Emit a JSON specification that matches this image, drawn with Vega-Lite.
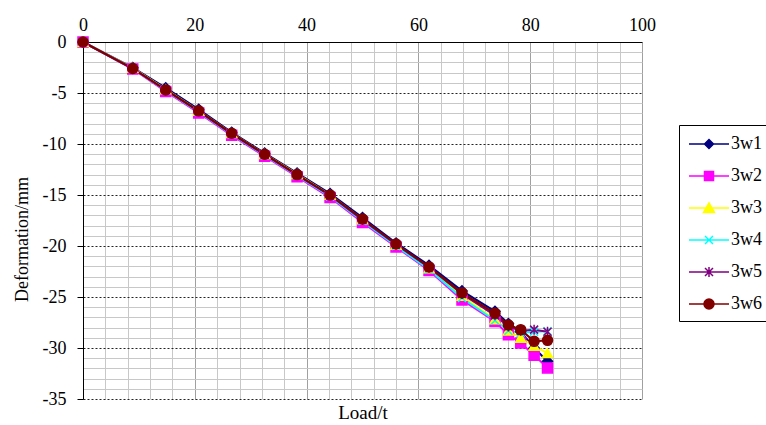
{
  "$schema": "https://vega.github.io/schema/vega-lite/v6.json",
  "autosize": "none",
  "width": 559,
  "height": 357,
  "padding": {"left": 83, "top": 42, "right": 124, "bottom": 26},
  "background": "#ffffff",
  "config": {"view": {"stroke": null}},
  "data": {"values": [
    {"series":"3w1","load":0,"def":0},{"series":"3w1","load":8.9,"def":-2.5},{"series":"3w1","load":14.8,"def":-4.5},{"series":"3w1","load":20.7,"def":-6.6},{"series":"3w1","load":26.6,"def":-8.85},{"series":"3w1","load":32.5,"def":-10.9},{"series":"3w1","load":38.3,"def":-12.85},{"series":"3w1","load":44.2,"def":-14.85},{"series":"3w1","load":50.0,"def":-17.2},{"series":"3w1","load":56.0,"def":-19.7},{"series":"3w1","load":61.9,"def":-21.9},{"series":"3w1","load":67.8,"def":-24.4},{"series":"3w1","load":73.7,"def":-26.4},{"series":"3w1","load":76.1,"def":-27.6},{"series":"3w1","load":78.3,"def":-28.4},{"series":"3w1","load":80.7,"def":-30.0},{"series":"3w1","load":83.1,"def":-31.3},
    {"series":"3w2","load":0,"def":0},{"series":"3w2","load":8.9,"def":-2.65},{"series":"3w2","load":14.8,"def":-4.85},{"series":"3w2","load":20.7,"def":-6.95},{"series":"3w2","load":26.6,"def":-9.15},{"series":"3w2","load":32.5,"def":-11.2},{"series":"3w2","load":38.3,"def":-13.2},{"series":"3w2","load":44.2,"def":-15.25},{"series":"3w2","load":50.0,"def":-17.7},{"series":"3w2","load":56.0,"def":-20.1},{"series":"3w2","load":61.9,"def":-22.4},{"series":"3w2","load":67.8,"def":-25.3},{"series":"3w2","load":73.7,"def":-27.4},{"series":"3w2","load":76.1,"def":-28.7},{"series":"3w2","load":78.3,"def":-29.5},{"series":"3w2","load":80.7,"def":-30.7},{"series":"3w2","load":83.1,"def":-31.95},
    {"series":"3w3","load":0,"def":0},{"series":"3w3","load":8.9,"def":-2.55},{"series":"3w3","load":14.8,"def":-4.65},{"series":"3w3","load":20.7,"def":-6.75},{"series":"3w3","load":26.6,"def":-8.95},{"series":"3w3","load":32.5,"def":-11.0},{"series":"3w3","load":38.3,"def":-12.95},{"series":"3w3","load":44.2,"def":-15.0},{"series":"3w3","load":50.0,"def":-17.4},{"series":"3w3","load":56.0,"def":-19.9},{"series":"3w3","load":61.9,"def":-22.2},{"series":"3w3","load":67.8,"def":-24.9},{"series":"3w3","load":73.7,"def":-27.2},{"series":"3w3","load":76.1,"def":-28.3},{"series":"3w3","load":78.3,"def":-29.0},{"series":"3w3","load":80.7,"def":-29.8},{"series":"3w3","load":83.1,"def":-30.5},
    {"series":"3w4","load":0,"def":0},{"series":"3w4","load":8.9,"def":-2.6},{"series":"3w4","load":14.8,"def":-4.75},{"series":"3w4","load":20.7,"def":-6.85},{"series":"3w4","load":26.6,"def":-9.05},{"series":"3w4","load":32.5,"def":-11.1},{"series":"3w4","load":38.3,"def":-13.1},{"series":"3w4","load":44.2,"def":-15.15},{"series":"3w4","load":50.0,"def":-17.55},{"series":"3w4","load":56.0,"def":-20.0},{"series":"3w4","load":61.9,"def":-22.3},{"series":"3w4","load":67.8,"def":-25.1},{"series":"3w4","load":73.7,"def":-27.3},{"series":"3w4","load":76.1,"def":-28.3},{"series":"3w4","load":78.3,"def":-28.5},{"series":"3w4","load":80.7,"def":-28.4},{"series":"3w4","load":83.1,"def":-28.35},
    {"series":"3w5","load":0,"def":0},{"series":"3w5","load":8.9,"def":-2.6},{"series":"3w5","load":14.8,"def":-4.7},{"series":"3w5","load":20.7,"def":-6.8},{"series":"3w5","load":26.6,"def":-9.0},{"series":"3w5","load":32.5,"def":-11.05},{"series":"3w5","load":38.3,"def":-13.05},{"series":"3w5","load":44.2,"def":-15.05},{"series":"3w5","load":50.0,"def":-17.45},{"series":"3w5","load":56.0,"def":-19.85},{"series":"3w5","load":61.9,"def":-22.1},{"series":"3w5","load":67.8,"def":-24.7},{"series":"3w5","load":73.7,"def":-26.8},{"series":"3w5","load":76.1,"def":-27.9},{"series":"3w5","load":78.3,"def":-28.3},{"series":"3w5","load":80.7,"def":-28.2},{"series":"3w5","load":83.1,"def":-28.4},
    {"series":"3w6","load":0,"def":0},{"series":"3w6","load":8.9,"def":-2.6},{"series":"3w6","load":14.8,"def":-4.7},{"series":"3w6","load":20.7,"def":-6.75},{"series":"3w6","load":26.6,"def":-8.95},{"series":"3w6","load":32.5,"def":-11.0},{"series":"3w6","load":38.3,"def":-13.0},{"series":"3w6","load":44.2,"def":-15.0},{"series":"3w6","load":50.0,"def":-17.35},{"series":"3w6","load":56.0,"def":-19.8},{"series":"3w6","load":61.9,"def":-22.05},{"series":"3w6","load":67.8,"def":-24.6},{"series":"3w6","load":73.7,"def":-26.6},{"series":"3w6","load":76.1,"def":-27.75},{"series":"3w6","load":78.3,"def":-28.2},{"series":"3w6","load":80.7,"def":-29.35},{"series":"3w6","load":83.1,"def":-29.25}
  ]},
  "encoding": {
    "y": {
      "field": "def", "type": "quantitative",
      "scale": {"domain": [-35, 0], "nice": false, "zero": false},
      "axis": {
        "orient": "left",
        "values": [0,-1,-2,-3,-4,-5,-6,-7,-8,-9,-10,-11,-12,-13,-14,-15,-16,-17,-18,-19,-20,-21,-22,-23,-24,-25,-26,-27,-28,-29,-30,-31,-32,-33,-34,-35],
        "labelExpr": "datum.value % 5 === 0 ? '' + datum.value : ''",
        "labelOverlap": false, "labelFlush": false,
        "labelFont": "Liberation Serif", "labelFontSize": 18, "labelColor": "#000000", "labelPadding": 11,
        "tickSize": 6,
        "tickColor": {"condition": {"test": "datum.value % 5 === 0", "value": "#000000"}, "value": "transparent"},
        "domainColor": "#000000", "domainWidth": 1,
        "grid": true,
        "gridColor": {"condition": {"test": "datum.value % 5 === 0", "value": "#222222"}, "value": "#c8c8c8"},
        "gridDash": {"condition": {"test": "datum.value % 5 === 0", "value": [2, 2]}, "value": []},
        "gridOpacity": 1,
        "title": "Deformation/mm",
        "titleFont": "Liberation Serif", "titleFontSize": 18, "titleFontWeight": "normal", "titleColor": "#000000", "titlePadding": 11,
        "titleY": 197
      }
    },
    "x": {
      "field": "load", "type": "quantitative",
      "scale": {"domain": [0, 100], "nice": false},
      "axis": null
    },
    "color": {
      "field": "series", "type": "nominal",
      "scale": {"domain": ["3w1","3w2","3w3","3w4","3w5","3w6"], "range": ["#000080","#ff00ff","#ffff00","#00ffff","#800080","#800000"]},
      "legend": {
        "title": null, "orient": "none", "legendX": 596, "legendY": 83,
        "strokeColor": "#000000", "fillColor": "#ffffff", "padding": 8,
        "symbolSize": 400, "symbolOffset": 11, "labelOffset": 11, "rowPadding": 12,
        "labelFont": "Liberation Serif", "labelFontSize": 18, "labelColor": "#000000",
        "labelExpr": "datum.label + '\u00a0\u00a0\u00a0\u00a0'",
        "symbolStrokeWidth": 1.5
      }
    }
  },
  "layer": [
    {
      "mark": {"type": "line", "strokeWidth": 2},
      "encoding": {
        "x": {
          "field": "load", "type": "quantitative",
          "scale": {"domain": [0, 100], "nice": false},
          "axis": {
            "orient": "top",
            "values": [0,4,8,12,16,20,24,28,32,36,40,44,48,52,56,60,64,68,72,76,80,84,88,92,96,100],
            "labelExpr": "datum.value % 20 === 0 ? '' + datum.value : ''",
            "labelOverlap": false, "labelFlush": false,
            "ticks": false,
            "labelPadding": 8,
            "labelFont": "Liberation Serif", "labelFontSize": 18, "labelColor": "#000000",
            "domainColor": "#000000", "domainWidth": 1,
            "grid": true,
            "gridColor": {"condition": {"test": "datum.value % 20 === 0", "value": "#a0a0a0"}, "value": "#c8c8c8"},
            "gridOpacity": 1,
            "title": null
          }
        }
      }
    },
    {
      "transform": [{"filter": "datum.series === '3w1'"}],
      "mark": {"type": "point", "filled": true, "size": 100, "opacity": 1, "strokeWidth": 1.5, "shape": "diamond", "stroke": "#000080"},
      "encoding": {
        "x": {
          "field": "load", "type": "quantitative",
          "scale": {"domain": [0, 100], "nice": false},
          "axis": {
            "orient": "bottom", "labels": false, "ticks": false, "domain": false, "grid": false,
            "title": "Load/t", "titleFont": "Liberation Serif", "titleFontSize": 19, "titleFontWeight": "normal", "titleColor": "#000000", "titlePadding": 4
          }
        }
      }
    },
    {
      "transform": [{"filter": "datum.series === '3w2'"}],
      "mark": {"type": "point", "filled": true, "size": 100, "opacity": 1, "strokeWidth": 1.5, "shape": "square", "stroke": "#ff00ff"}
    },
    {
      "transform": [{"filter": "datum.series === '3w3'"}],
      "mark": {"type": "point", "filled": true, "size": 100, "opacity": 1, "strokeWidth": 1.5, "shape": "triangle-up", "stroke": "#ffff00"}
    },
    {
      "transform": [{"filter": "datum.series === '3w4'"}],
      "mark": {"type": "point", "filled": true, "size": 100, "opacity": 1, "strokeWidth": 1.5, "shape": "M-0.8,-0.8L0.8,0.8M-0.8,0.8L0.8,-0.8", "stroke": "#00ffff"}
    },
    {
      "transform": [{"filter": "datum.series === '3w5'"}],
      "mark": {"type": "point", "filled": true, "size": 100, "opacity": 1, "strokeWidth": 1.5, "shape": "M-0.8,-0.8L0.8,0.8M-0.8,0.8L0.8,-0.8M0,-1L0,1", "stroke": "#800080"}
    },
    {
      "transform": [{"filter": "datum.series === '3w6'"}],
      "mark": {"type": "point", "filled": true, "size": 100, "opacity": 1, "strokeWidth": 1.5, "shape": "M-1,0A1,1,0,1,1,1,0A1,1,0,1,1,-1,0Z", "stroke": "#800000"}
    },
    {
      "transform": [{"filter": "datum.series === 'none'"}],
      "mark": {"type": "point", "filled": true, "size": 100, "opacity": 1, "strokeWidth": 1.5},
      "encoding": {
        "shape": {
          "field": "series", "type": "nominal",
          "scale": {"domain": ["3w1","3w2","3w3","3w4","3w5","3w6"], "range": [
            "M-2,0L2,0M-0.45,0L0,-0.45L0.45,0L0,0.45Z",
            "M-2,0L2,0M-0.45,-0.45L0.45,-0.45L0.45,0.45L-0.45,0.45Z",
            "M-2,0L2,0M0,-0.5L0.55,0.45L-0.55,0.45Z",
            "M-2,0L2,0M-0.4,-0.4L0.4,0.4M-0.4,0.4L0.4,-0.4",
            "M-2,0L2,0M-0.4,-0.4L0.4,0.4M-0.4,0.4L0.4,-0.4M0,-0.5L0,0.5",
            "M-2,0L2,0M-0.5,0A0.5,0.5,0,1,1,0.5,0A0.5,0.5,0,1,1,-0.5,0Z"
          ]},
          "legend": {"title": null}
        },
        "stroke": {
          "field": "series", "type": "nominal",
          "scale": {"domain": ["3w1","3w2","3w3","3w4","3w5","3w6"], "range": ["#000080","#ff00ff","#ffff00","#00ffff","#800080","#800000"]},
          "legend": null
        }
      }
    }
  ],
  "resolve": {"axis": {"x": "independent"}}
}
